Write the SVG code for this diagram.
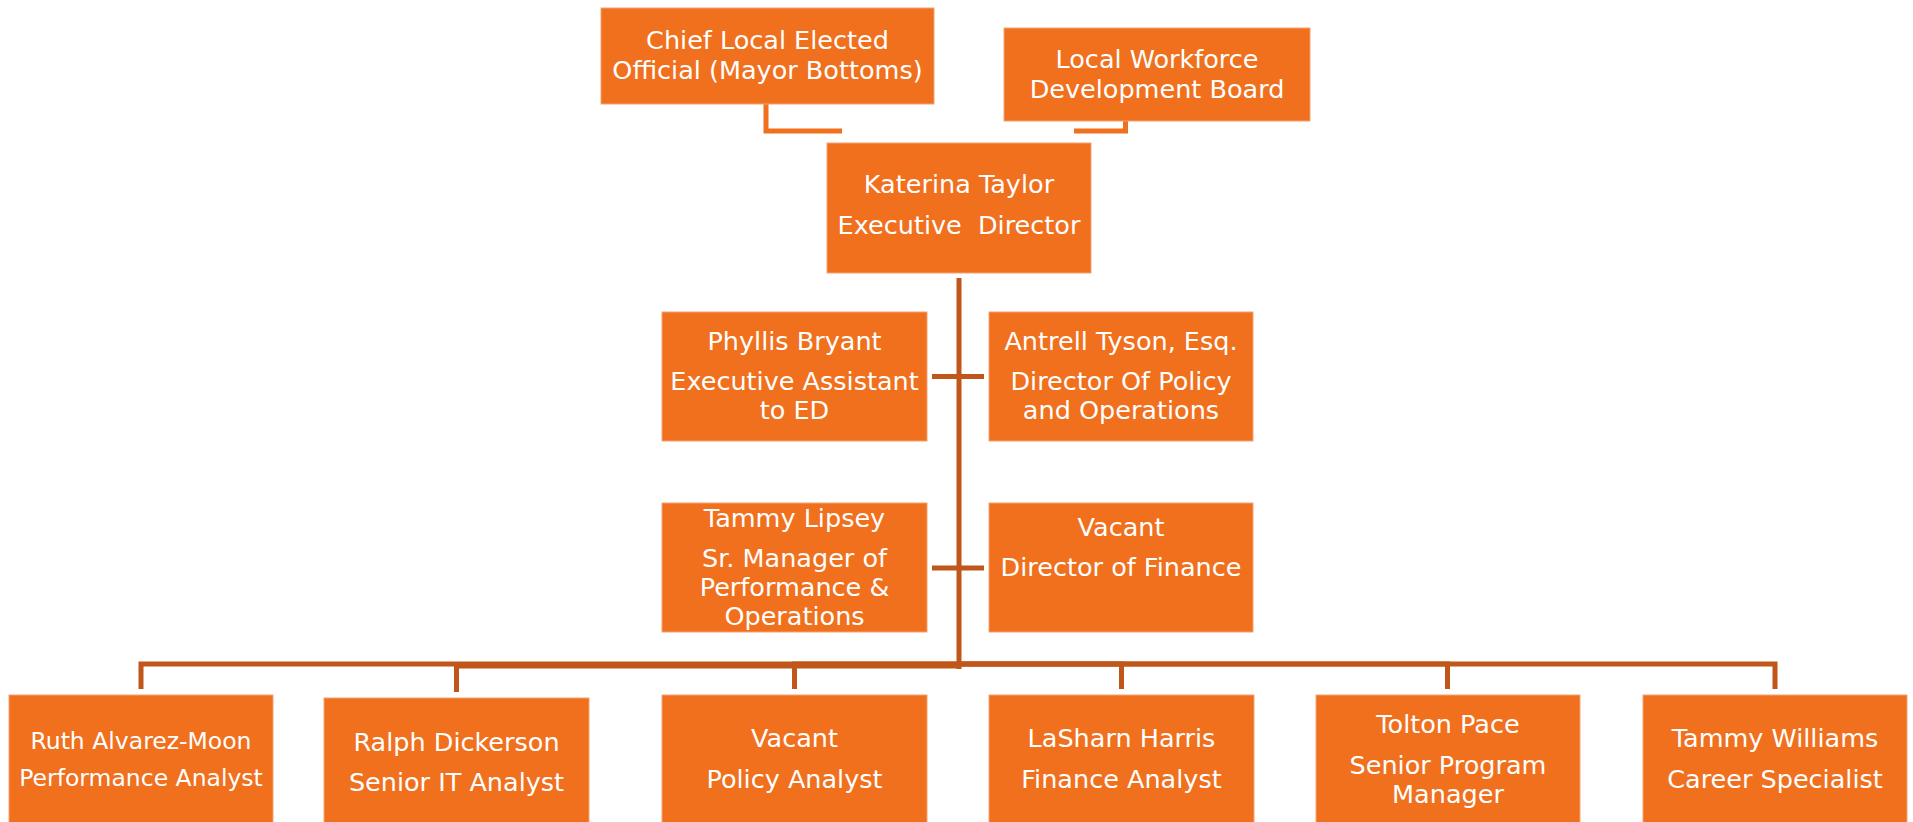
<svg xmlns="http://www.w3.org/2000/svg" width="1913" height="822" viewBox="0 0 1913 822">
<style>
.box{fill:#F0701E;stroke:#F5A272;stroke-width:1}
.t{font-family:"DejaVu Sans",sans-serif;font-size:25.5px;fill:#FFFFFF;text-anchor:middle}
.s{font-size:23.5px}
.lk{fill:none;stroke:#C0561A;stroke-width:5}
.lt{fill:none;stroke:#F0701E;stroke-width:5}
</style>
<rect width="1913" height="822" fill="#FFFFFF"/>
<g id="connectors">
<path class="lt" d="M766,104 V131 H842"/>
<path class="lt" d="M1125.5,121 V131 H1074"/>
<path class="lk" d="M959,278 V669"/>
<path class="lk" d="M932,376.5 H984"/>
<path class="lk" d="M932,568 H984"/>
<path class="lk" d="M959,664 H141 V689"/>
<path class="lk" d="M959,666 H456.5 V692"/>
<path class="lk" d="M959,664 H794.5 V689"/>
<path class="lk" d="M959,664 H1121.5 V689"/>
<path class="lk" d="M959,664 H1447.5 V689"/>
<path class="lk" d="M959,664 H1775 V689"/>
</g>
<g id="chief">
<rect class="box" x="601" y="8" width="333" height="96"/>
<text class="t" x="767.5" y="49">Chief Local Elected</text>
<text class="t" x="767.5" y="79">Official (Mayor Bottoms)</text>
</g>
<g id="lwdb">
<rect class="box" x="1004" y="28" width="306" height="93"/>
<text class="t" x="1157" y="68">Local Workforce</text>
<text class="t" x="1157" y="98">Development Board</text>
</g>
<g id="katerina">
<rect class="box" x="827" y="143" width="264" height="130"/>
<text class="t" x="959" y="193">Katerina Taylor</text>
<text class="t" x="959" y="234" xml:space="preserve">Executive  Director</text>
</g>
<g id="phyllis">
<rect class="box" x="662" y="312" width="265" height="129"/>
<text class="t" x="794.5" y="350">Phyllis Bryant</text>
<text class="t" x="794.5" y="390">Executive Assistant</text>
<text class="t" x="794.5" y="419">to ED</text>
</g>
<g id="antrell">
<rect class="box" x="989" y="312" width="264" height="129"/>
<text class="t" x="1121" y="350">Antrell Tyson, Esq.</text>
<text class="t" x="1121" y="390">Director Of Policy</text>
<text class="t" x="1121" y="419">and Operations</text>
</g>
<g id="tammy-lipsey">
<rect class="box" x="662" y="503" width="265" height="129"/>
<text class="t" x="794.5" y="527">Tammy Lipsey</text>
<text class="t" x="794.5" y="567">Sr. Manager of</text>
<text class="t" x="794.5" y="596">Performance &amp;</text>
<text class="t" x="794.5" y="625">Operations</text>
</g>
<g id="vacant-finance">
<rect class="box" x="989" y="503" width="264" height="129"/>
<text class="t" x="1121" y="536">Vacant</text>
<text class="t" x="1121" y="576">Director of Finance</text>
</g>
<g id="ruth">
<rect class="box" x="9" y="695" width="264" height="140"/>
<text class="t s" x="141" y="749">Ruth Alvarez-Moon</text>
<text class="t s" x="141" y="786">Performance Analyst</text>
</g>
<g id="ralph">
<rect class="box" x="324" y="698" width="265" height="140"/>
<text class="t" x="456.5" y="751">Ralph Dickerson</text>
<text class="t" x="456.5" y="791">Senior IT Analyst</text>
</g>
<g id="vacant-policy">
<rect class="box" x="662" y="695" width="265" height="140"/>
<text class="t" x="794.5" y="747">Vacant</text>
<text class="t" x="794.5" y="788">Policy Analyst</text>
</g>
<g id="lasharn">
<rect class="box" x="989" y="695" width="265" height="140"/>
<text class="t" x="1121.5" y="747">LaSharn Harris</text>
<text class="t" x="1121.5" y="788">Finance Analyst</text>
</g>
<g id="tolton">
<rect class="box" x="1316" y="695" width="264" height="140"/>
<text class="t" x="1448" y="733">Tolton Pace</text>
<text class="t" x="1448" y="774">Senior Program</text>
<text class="t" x="1448" y="803">Manager</text>
</g>
<g id="tammy-williams">
<rect class="box" x="1643" y="695" width="264" height="140"/>
<text class="t" x="1775" y="747">Tammy Williams</text>
<text class="t" x="1775" y="788">Career Specialist</text>
</g>
</svg>
